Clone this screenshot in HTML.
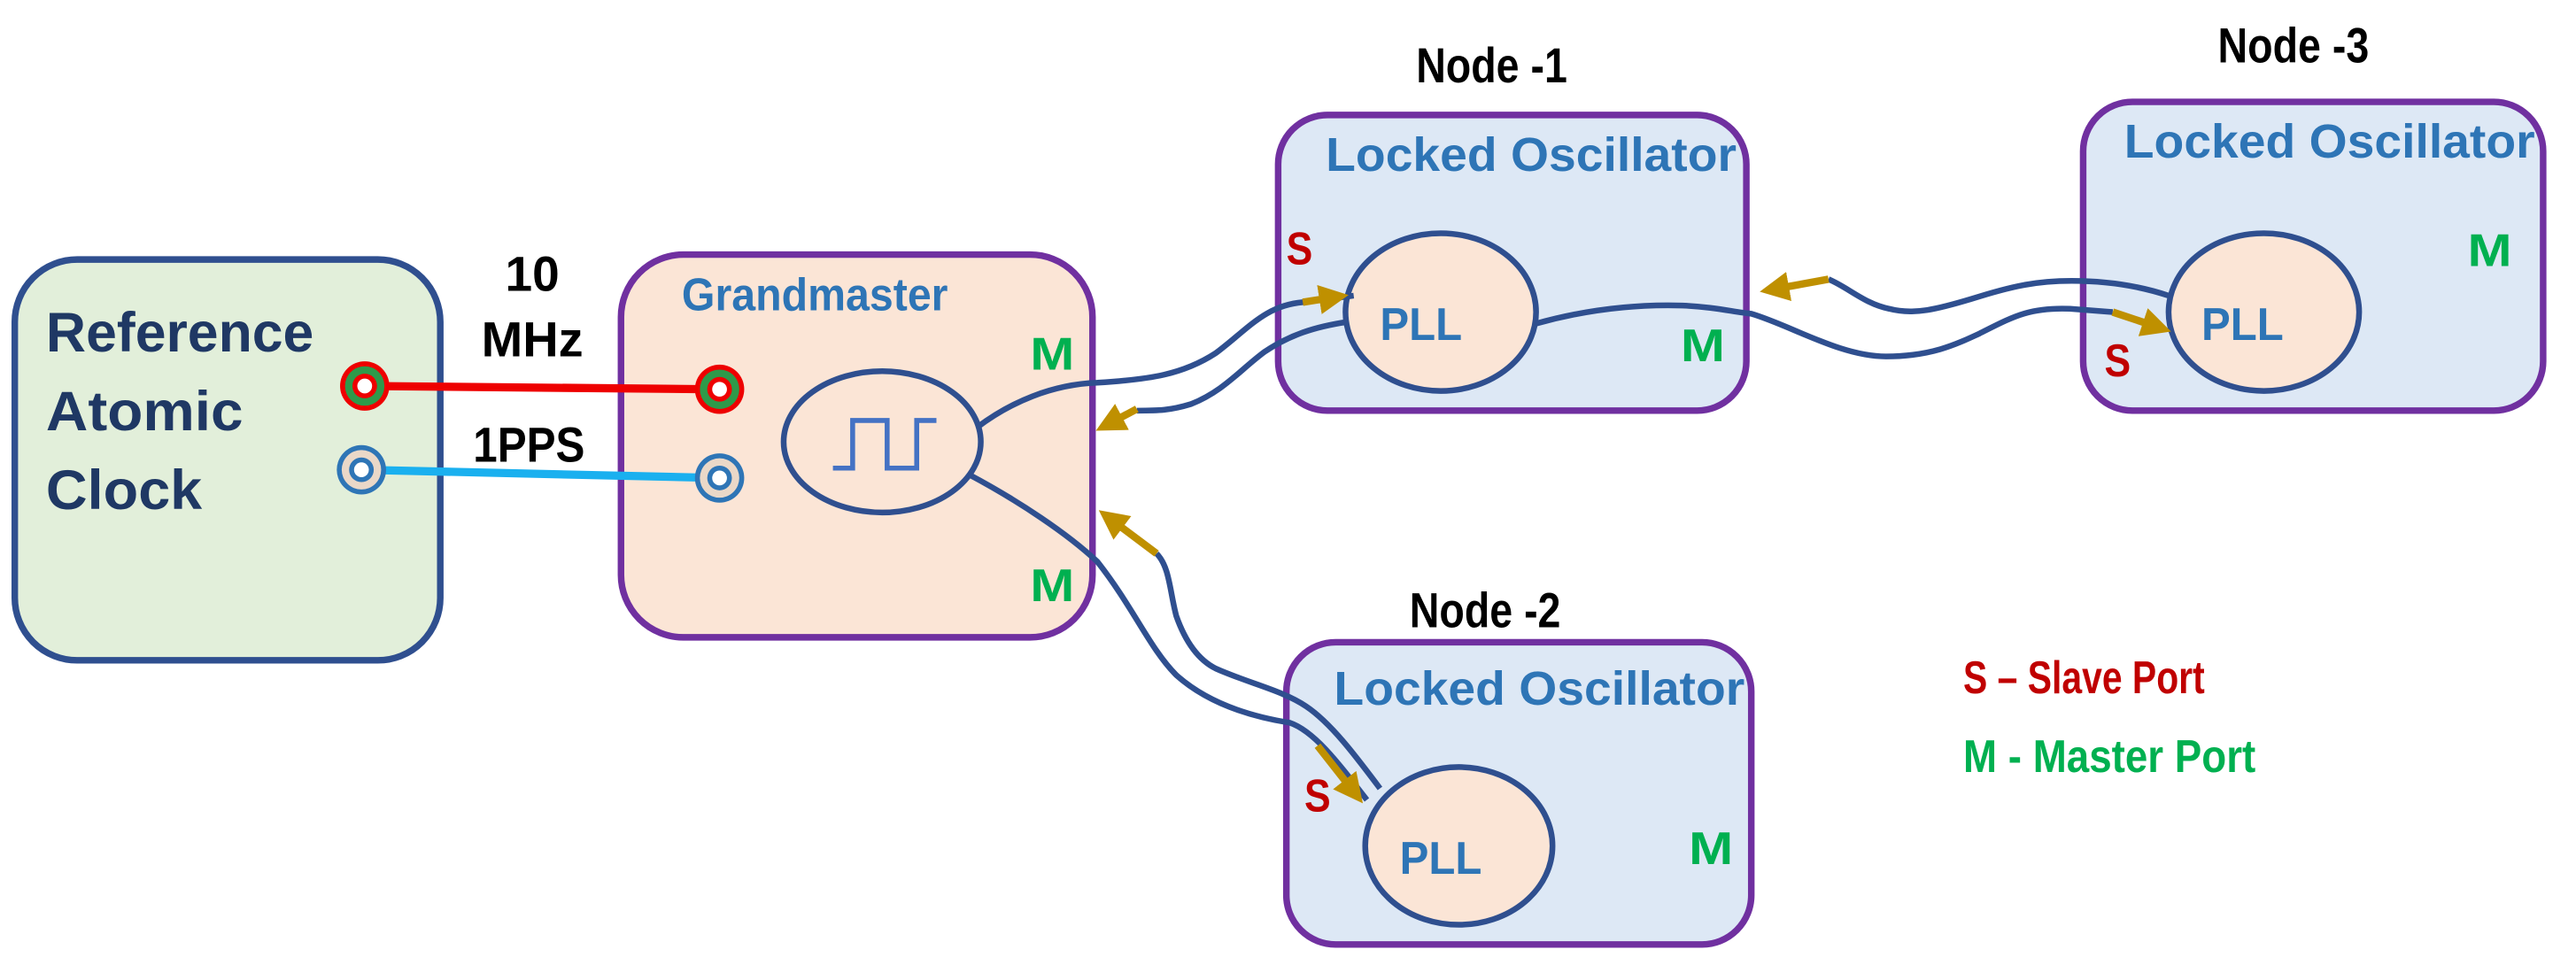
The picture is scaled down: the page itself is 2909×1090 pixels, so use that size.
<!DOCTYPE html>
<html><head><meta charset="utf-8"><style>
html,body{margin:0;padding:0;background:#fff;}
svg{display:block;}
text{font-family:"Liberation Sans",sans-serif;font-weight:bold;}
</style></head><body>
<svg width="2909" height="1090" viewBox="0 0 1568 587.5" preserveAspectRatio="none" xmlns="http://www.w3.org/2000/svg">
<!-- Reference box -->
<rect x="9" y="158" width="259" height="244" rx="38" fill="#e2efda" stroke="#2f4f8f" stroke-width="4"/>
<text x="28" y="214" font-size="34" fill="#1f3864" textLength="163" lengthAdjust="spacingAndGlyphs">Reference</text>
<text x="28" y="262" font-size="34" fill="#1f3864" textLength="120" lengthAdjust="spacingAndGlyphs">Atomic</text>
<text x="28" y="310" font-size="34" fill="#1f3864" textLength="95" lengthAdjust="spacingAndGlyphs">Clock</text>
<!-- Grandmaster box -->
<rect x="378" y="155" width="287" height="233" rx="38" fill="#fbe5d6" stroke="#7030a0" stroke-width="4"/>
<text x="415" y="189" font-size="28" fill="#2e75b6" textLength="162" lengthAdjust="spacingAndGlyphs">Grandmaster</text>
<text x="627" y="225" font-size="28" fill="#00b050" textLength="27" lengthAdjust="spacingAndGlyphs">M</text>
<text x="627" y="366" font-size="28" fill="#00b050" textLength="27" lengthAdjust="spacingAndGlyphs">M</text>
<ellipse cx="537" cy="269" rx="60" ry="43" fill="none" stroke="#2f4f8f" stroke-width="3.5"/>
<polyline points="507,285 519,285 519,256 540,256 540,285 558,285 558,256 570,256" fill="none" stroke="#4472c4" stroke-width="3"/>
<!-- signal lines -->
<line x1="222" y1="235" x2="437" y2="237" stroke="#ee0000" stroke-width="5"/>
<line x1="220" y1="286" x2="437" y2="291" stroke="#1ab0ef" stroke-width="5"/>
<g>
<circle cx="222" cy="235" r="15" fill="#ee0000"/><circle cx="222" cy="235" r="12" fill="#2e9a4a"/><circle cx="222" cy="235" r="7.5" fill="#ee0000"/><circle cx="222" cy="235" r="4.5" fill="#fff"/>
<circle cx="438" cy="237" r="15" fill="#ee0000"/><circle cx="438" cy="237" r="12" fill="#2e9a4a"/><circle cx="438" cy="237" r="7.5" fill="#ee0000"/><circle cx="438" cy="237" r="4.5" fill="#fff"/>
<circle cx="220" cy="286" r="15" fill="#2e75b6"/><circle cx="220" cy="286" r="12" fill="#ead8c8"/><circle cx="220" cy="286" r="7.5" fill="#2e75b6"/><circle cx="220" cy="286" r="4.5" fill="#fff"/>
<circle cx="438" cy="291" r="15" fill="#2e75b6"/><circle cx="438" cy="291" r="12" fill="#ead8c8"/><circle cx="438" cy="291" r="7.5" fill="#2e75b6"/><circle cx="438" cy="291" r="4.5" fill="#fff"/>
</g>
<text x="324" y="177" font-size="30" fill="#000" text-anchor="middle" textLength="33" lengthAdjust="spacingAndGlyphs">10</text>
<text x="324" y="217" font-size="30" fill="#000" text-anchor="middle" textLength="62" lengthAdjust="spacingAndGlyphs">MHz</text>
<text x="322" y="281" font-size="30" fill="#000" text-anchor="middle" textLength="68" lengthAdjust="spacingAndGlyphs">1PPS</text>

<!-- Node boxes -->
<rect x="778" y="70" width="285" height="180" rx="30" fill="#dde8f5" stroke="#7030a0" stroke-width="4"/>
<rect x="1268" y="62" width="280" height="188" rx="30" fill="#dde8f5" stroke="#7030a0" stroke-width="4"/>
<rect x="783" y="391" width="283" height="184" rx="30" fill="#dde8f5" stroke="#7030a0" stroke-width="4"/>

<text x="862" y="50" font-size="30" fill="#000" textLength="92" lengthAdjust="spacingAndGlyphs">Node -1</text>
<text x="1350" y="38" font-size="30" fill="#000" textLength="92" lengthAdjust="spacingAndGlyphs">Node -3</text>
<text x="858" y="382" font-size="30" fill="#000" textLength="92" lengthAdjust="spacingAndGlyphs">Node -2</text>

<text x="807" y="104" font-size="29" fill="#2e75b6" textLength="250" lengthAdjust="spacingAndGlyphs">Locked Oscillator</text>
<text x="1293" y="96" font-size="29" fill="#2e75b6" textLength="250" lengthAdjust="spacingAndGlyphs">Locked Oscillator</text>
<text x="812" y="429" font-size="29" fill="#2e75b6" textLength="250" lengthAdjust="spacingAndGlyphs">Locked Oscillator</text>

<ellipse cx="877" cy="190" rx="58" ry="48" fill="#fbe5d6" stroke="#2f4f8f" stroke-width="3.5"/>
<ellipse cx="1378" cy="190" rx="58" ry="48" fill="#fbe5d6" stroke="#2f4f8f" stroke-width="3.5"/>
<ellipse cx="888" cy="515" rx="57" ry="48" fill="#fbe5d6" stroke="#2f4f8f" stroke-width="3.5"/>
<text x="840" y="207" font-size="28" fill="#2e75b6" textLength="50" lengthAdjust="spacingAndGlyphs">PLL</text>
<text x="1340" y="207" font-size="28" fill="#2e75b6" textLength="50" lengthAdjust="spacingAndGlyphs">PLL</text>
<text x="852" y="532" font-size="28" fill="#2e75b6" textLength="50" lengthAdjust="spacingAndGlyphs">PLL</text>

<text x="783" y="161" font-size="28" fill="#c00000" textLength="16" lengthAdjust="spacingAndGlyphs">S</text>
<text x="1281" y="229" font-size="28" fill="#c00000" textLength="16" lengthAdjust="spacingAndGlyphs">S</text>
<text x="794" y="494" font-size="28" fill="#c00000" textLength="16" lengthAdjust="spacingAndGlyphs">S</text>
<text x="1023" y="220" font-size="28" fill="#00b050" textLength="27" lengthAdjust="spacingAndGlyphs">M</text>
<text x="1502" y="162" font-size="28" fill="#00b050" textLength="27" lengthAdjust="spacingAndGlyphs">M</text>
<text x="1028" y="526" font-size="28" fill="#00b050" textLength="27" lengthAdjust="spacingAndGlyphs">M</text>

<!-- wires -->
<g fill="none" stroke="#2f4f8f" stroke-width="3.5">
<path d="M595,260 C615,245 640,234 668,233 C700,231 720,228 740,215 C760,200 770,186 793,184 L824,180"/>
<path d="M692,250 C705,250 712,250 725,246 C745,238 755,225 770,214 C785,204 800,199 820,196"/>
<path d="M935,197 C960,190 990,185 1024,186 C1045,187 1055,190 1066,191 C1090,198 1120,217 1148,217 C1175,217 1190,210 1205,203 C1225,193 1235,187 1260,188 L1286,190"/>
<path d="M1113,170 C1125,175 1135,185 1150,188 C1165,192 1180,188 1200,182 C1225,174 1240,171 1261,171 C1285,171 1305,175 1320,180"/>
<path d="M590,289 C620,305 650,325 668,342 C690,370 700,395 716,411 C735,428 760,436 785,440 C800,445 815,465 832,487"/>
<path d="M704,337 C712,345 712,360 716,375 C722,392 730,402 740,407 C760,416 780,420 795,430 C810,440 825,460 840,480"/>
</g>
<!-- gold arrows -->
<defs><marker id="ah" markerWidth="4" markerHeight="4" refX="2" refY="2" orient="auto"><path d="M0,0 L4,2 L0,4 Z" fill="#bf9000"/></marker></defs>
<g stroke="#bf9000" stroke-width="4.5" marker-end="url(#ah)">
<line x1="793" y1="184" x2="812" y2="181"/>
<line x1="692" y1="249" x2="675" y2="258"/>
<line x1="704" y1="337" x2="676" y2="316"/>
<line x1="802" y1="454" x2="824" y2="482"/>
<line x1="1113" y1="170" x2="1080" y2="176"/>
<line x1="1286" y1="190" x2="1313" y2="199"/>
</g>

<!-- legend -->
<text x="1195" y="422" font-size="28" fill="#c00000" textLength="147" lengthAdjust="spacingAndGlyphs">S – Slave Port</text>
<text x="1195" y="470" font-size="28" fill="#00b050" textLength="178" lengthAdjust="spacingAndGlyphs">M -  Master Port</text>
</svg>
</body></html>
